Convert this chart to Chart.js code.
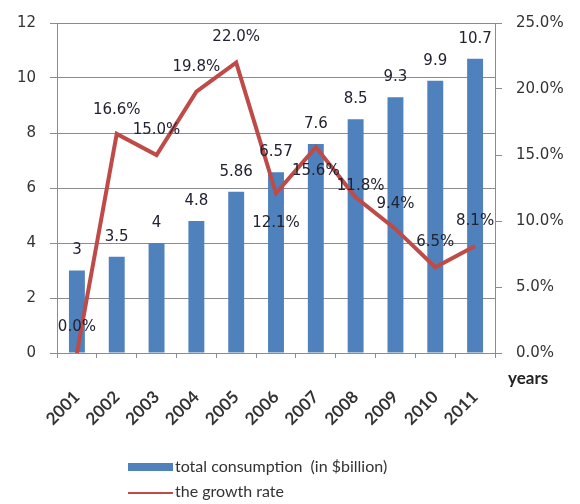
<!DOCTYPE html>
<html>
<head>
<meta charset="utf-8">
<script src="https://cdn.jsdelivr.net/npm/chart.js@4"></script>
<style>
  html, body { margin: 0; padding: 0; background: #fff; }
  #wrap { width: 580px; height: 504px; position: relative; }
</style>
</head>
<body>
<div id="wrap"><canvas id="chart"></canvas></div>
<script>
const years = ['2001', '2002', '2003', '2004', '2005', '2006', '2007', '2008', '2009', '2010', '2011'];
const consumption = [3, 3.5, 4, 4.8, 5.86, 6.57, 7.6, 8.5, 9.3, 9.9, 10.7];
const growthRate = [0.0, 16.6, 15.0, 19.8, 22.0, 12.1, 15.6, 11.8, 9.4, 6.5, 8.1];
const legendLabels = ['total consumption  (in $billion)', 'the growth rate'];

// where each growth label sits relative to its point (px, negative = above)
const rateLabelShift = [-26, -24, -25, -25, -25, 30, 24, -11, -25, -25, -25];

const blue = '#4F81BD';
const red = '#BE4B48';
const gridGrey = '#8c8c8c';

// draws the value labels, the "years" caption and the legend
const extrasPlugin = {
    id: 'extras',
    afterDatasetsDraw(chart) {
        const ctx = chart.ctx;
        ctx.save();
        ctx.font = '15px "DejaVu Sans"';
        ctx.fillStyle = '#222230';
        ctx.textAlign = 'center';
        ctx.textBaseline = 'middle';

        // dataset 0 is the line, dataset 1 the bars
        chart.getDatasetMeta(1).data.forEach(function(bar, i) {
            ctx.fillText(String(consumption[i]), bar.x, bar.y - 20);
        });
        chart.getDatasetMeta(0).data.forEach(function(pt, i) {
            const dx = (i == 7) ? 5 : 0;
            ctx.fillText(growthRate[i].toFixed(1) + '%', pt.x + dx, pt.y + rateLabelShift[i]);
        });

        // axis caption
        ctx.font = 'bold 17px Lato';
        ctx.fillStyle = '#222';
        ctx.textAlign = 'left';
        ctx.fillText('years', 508, 379);

        // legend
        ctx.fillStyle = blue;
        ctx.fillRect(128, 463, 45, 8);
        ctx.strokeStyle = red;
        ctx.lineWidth = 2;
        ctx.beginPath();
        ctx.moveTo(128, 493);
        ctx.lineTo(173, 493);
        ctx.stroke();
        ctx.font = '16px Lato';
        ctx.fillStyle = '#333';
        ctx.fillText(legendLabels[0], 175, 467);
        ctx.fillText(legendLabels[1], 175, 492);
        ctx.restore();
    }
};

const ctx = document.getElementById('chart').getContext('2d');
const myChart = new Chart(ctx, {
    data: {
        labels: years,
        datasets: [{
            type: 'line',
            label: legendLabels[1],
            data: growthRate,
            yAxisID: 'y1',
            borderColor: red,
            borderWidth: 4,
            pointRadius: 0,
            tension: 0,
            order: 0
        }, {
            type: 'bar',
            label: legendLabels[0],
            data: consumption,
            yAxisID: 'y',
            backgroundColor: blue,
            categoryPercentage: 1,
            barPercentage: 0.4,
            order: 1
        }]
    },
    options: {
        responsive: true,
        maintainAspectRatio: false,
        animation: false,
        layout: { padding: { top: 14 } },
        plugins: {
            legend: { display: false },
            tooltip: { enabled: false }
        },
        scales: {
            x: {
                grid: { drawOnChartArea: false, color: gridGrey, tickLength: 5 },
                border: { color: gridGrey },
                ticks: {
                    minRotation: 45,
                    maxRotation: 45,
                    padding: 29,
                    color: '#333',
                    font: { family: 'Lato', size: 17, weight: 'bold' }
                },
                afterFit: function(scale) { scale.height = 151; }
            },
            y: {
                position: 'left',
                min: 0,
                max: 12,
                ticks: {
                    stepSize: 2,
                    padding: 14,
                    color: '#333',
                    font: { family: 'DejaVu Sans', size: 15 }
                },
                grid: { color: gridGrey, tickLength: 7 },
                border: { color: gridGrey },
                afterFit: function(scale) { scale.width = 57; }
            },
            y1: {
                position: 'right',
                min: 0,
                max: 25,
                ticks: {
                    stepSize: 5,
                    padding: 14,
                    color: '#333',
                    font: { family: 'DejaVu Sans', size: 15 },
                    callback: function(v) { return v.toFixed(1) + '%'; }
                },
                grid: { drawOnChartArea: false, color: gridGrey, tickLength: 7 },
                border: { color: gridGrey },
                afterFit: function(scale) { scale.width = 85; }
            }
        }
    },
    plugins: [extrasPlugin]
});
</script>
</body>
</html>
